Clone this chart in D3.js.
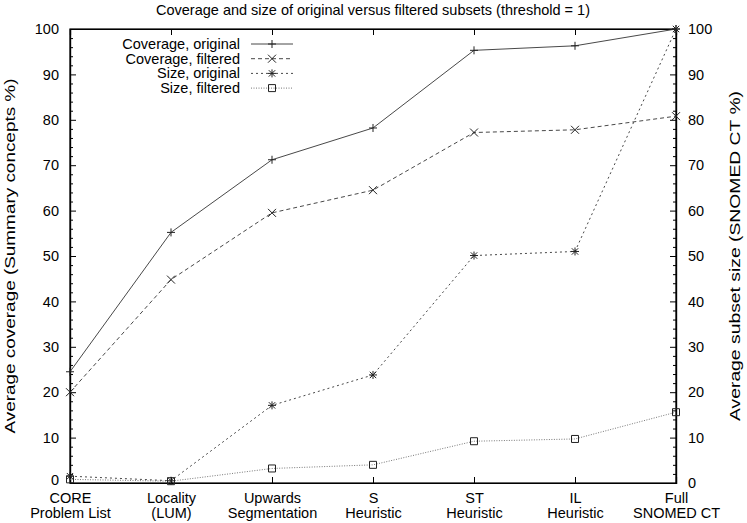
<!DOCTYPE html>
<html>
<head>
<meta charset="utf-8">
<script src="https://cdn.jsdelivr.net/npm/d3@7"></script>
<style>
  html, body { margin: 0; padding: 0; background: #fff; }
  svg { display: block; }
  text { font-family: "Liberation Sans", Arial, Helvetica, sans-serif; font-size: 14.5px; fill: #000; }
</style>
</head>
<body>
<svg id="chart" width="747" height="523"></svg>
<script>
const categories = [
  ["CORE", "Problem List"],
  ["Locality", "(LUM)"],
  ["Upwards", "Segmentation"],
  ["S", "Heuristic"],
  ["ST", "Heuristic"],
  ["IL", "Heuristic"],
  ["Full", "SNOMED CT"]
];
const coverageOriginal = [24.5, 55.2, 71.2, 78.2, 95.3, 96.3, 100];
const coverageFiltered = [20.0, 44.8, 59.5, 64.5, 77.2, 77.8, 80.8];
const sizeOriginal     = [1.5, 0.5, 17.1, 23.8, 50.1, 51.0, 100];
const sizeFiltered     = [0.8, 0.4, 3.2, 4.0, 9.2, 9.7, 15.6];
const yTicks = [0, 10, 20, 30, 40, 50, 60, 70, 80, 90, 100];
const seriesNames = ["Coverage, original", "Coverage, filtered", "Size, original", "Size, filtered"];

const W = 747, H = 523;
const m = { left: 70, right: 71, top: 29, bottom: 40 };
const FS = 14.5;
const svg = d3.select("#chart");

const x = d3.scalePoint().domain(d3.range(categories.length)).range([m.left, W - m.right]);
const y = d3.scaleLinear().domain([0, 100]).range([H - m.bottom, m.top]);
const y2 = d3.scaleLinear().domain([0, 100]).range([H - m.bottom, m.top]);

const minorTicks = d3.range(0, 101, 2).filter(v => v % 10 !== 0);
const axisColor = "#000";

// Frame
svg.append("rect")
  .attr("x", m.left).attr("y", m.top)
  .attr("width", W - m.left - m.right).attr("height", H - m.top - m.bottom)
  .attr("fill", "none").attr("stroke", axisColor).attr("stroke-width", 1.2);

// Left axis
const gL = svg.append("g").attr("transform", `translate(${m.left},0)`)
  .call(d3.axisLeft(y).tickValues(yTicks).tickSize(-6).tickPadding(11).tickFormat(d3.format("d")));
gL.selectAll(".tick text").attr("font-size", FS).attr("font-family", null)
  .attr("dy", (d) => d === 0 ? "0.1em" : "0.32em");
gL.append("g").call(d3.axisLeft(y).tickValues(minorTicks).tickSize(-3).tickFormat(""));

// Right axis
const gR = svg.append("g").attr("transform", `translate(${W - m.right},0)`)
  .call(d3.axisRight(y2).tickValues(yTicks).tickSize(-6).tickPadding(12).tickFormat(d3.format("d")));
gR.selectAll(".tick text").attr("font-size", FS).attr("font-family", null);
gR.append("g").call(d3.axisRight(y2).tickValues(minorTicks).tickSize(-3).tickFormat(""));

// Bottom axis
const gB = svg.append("g").attr("transform", `translate(0,${H - m.bottom})`)
  .call(d3.axisBottom(x).tickSize(-6).tickFormat(""));
gB.selectAll(".tick").each(function(d) {
  const t = d3.select(this).append("text").attr("text-anchor", "middle").attr("fill", "#000")
    .attr("font-size", FS);
  t.append("tspan").attr("x", 0).attr("y", 20).text(categories[d][0]);
  t.append("tspan").attr("x", 0).attr("y", 35).text(categories[d][1]);
});
// Top (mirror) ticks
svg.append("g").attr("transform", `translate(0,${m.top})`)
  .call(d3.axisTop(x).tickSize(-6).tickFormat(""));

svg.selectAll(".domain").attr("stroke", axisColor).attr("stroke-width", 1.2);
svg.selectAll(".tick line").attr("stroke", axisColor);

// Title & axis labels
svg.append("text").attr("x", (m.left + W - m.right) / 2).attr("y", 15)
  .attr("text-anchor", "middle").text("Coverage and size of original versus filtered subsets (threshold = 1)");
svg.append("text").attr("transform", `translate(15,${(m.top + H - m.bottom) / 2}) rotate(-90)`)
  .attr("text-anchor", "middle").attr("textLength", 355).attr("lengthAdjust", "spacingAndGlyphs")
  .text("Average coverage (Summary concepts %)");
svg.append("text").attr("transform", `translate(740,${(m.top + H - m.bottom) / 2}) rotate(-90)`)
  .attr("text-anchor", "middle").attr("textLength", 330).attr("lengthAdjust", "spacingAndGlyphs")
  .text("Average subset size (SNOMED CT %)");

// Series
const styles = [
  { data: coverageOriginal, scale: y,  dash: null,   color: "#333", width: 0.9, marker: "plus" },
  { data: coverageFiltered, scale: y,  dash: "4,3",  color: "#333", width: 0.9, marker: "cross" },
  { data: sizeOriginal,     scale: y2, dash: "2,3",  color: "#333", width: 0.9, marker: "star" },
  { data: sizeFiltered,     scale: y2, dash: "1,1.5",color: "#555", width: 0.8, marker: "square" }
];

function drawMarker(g, type, cx, cy) {
  const s = 4;
  const p = d3.path();
  if (type === "plus" || type === "star") {
    p.moveTo(cx - s, cy); p.lineTo(cx + s, cy);
    p.moveTo(cx, cy - s); p.lineTo(cx, cy + s);
  }
  if (type === "cross" || type === "star") {
    const c = type === "star" ? s * 0.8 : s;
    p.moveTo(cx - c, cy - c); p.lineTo(cx + c, cy + c);
    p.moveTo(cx - c, cy + c); p.lineTo(cx + c, cy - c);
  }
  if (type === "square") {
    p.rect(cx - 3.5, cy - 3.5, 7, 7);
  }
  g.append("path").attr("d", p.toString()).attr("fill", "none")
    .attr("stroke", "#222").attr("stroke-width", 1);
}

styles.forEach(st => {
  const line = d3.line().x((d, i) => x(i)).y(d => st.scale(d));
  svg.append("path").datum(st.data).attr("d", line)
    .attr("fill", "none").attr("stroke", st.color).attr("stroke-width", st.width)
    .attr("stroke-dasharray", st.dash);
  const g = svg.append("g");
  st.data.forEach((d, i) => drawMarker(g, st.marker, x(i), st.scale(d)));
});

// Legend
const legX = 240, legY0 = 44, legDy = 14.7;
seriesNames.forEach((name, i) => {
  const st = styles[i];
  const yy = legY0 + i * legDy;
  svg.append("text").attr("x", legX).attr("y", yy).attr("dy", "0.35em")
    .attr("text-anchor", "end").text(name);
  svg.append("line").attr("x1", legX + 11).attr("x2", legX + 53).attr("y1", yy).attr("y2", yy)
    .attr("stroke", st.color).attr("stroke-width", st.width).attr("stroke-dasharray", st.dash);
  drawMarker(svg.append("g"), st.marker, legX + 32, yy);
});
</script>
</body>
</html>
